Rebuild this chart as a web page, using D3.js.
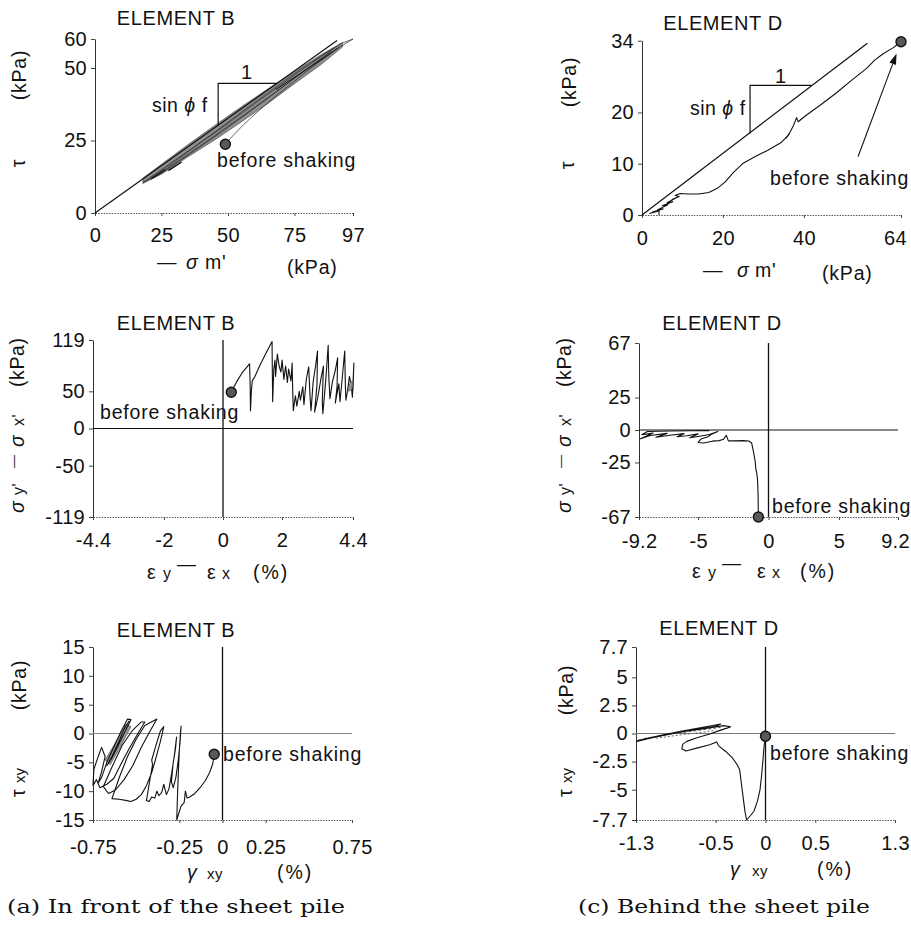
<!DOCTYPE html>
<html><head><meta charset="utf-8">
<script src="https://cdn.jsdelivr.net/npm/d3@7"></script>
<style>body{margin:0;background:#fff}</style>
</head><body>
<script>
// ---------------- data ----------------
// Element B : effective stress path  (tau vs sigma_m')
const bStressXTicks = [0, 25, 50, 75, 97];
const bStressYTicks = [0, 25, 50, 60];
const bFailure = [[0, 0], [91, 59.5]];
const bSlopeTri = [[46.3, 30.3], [46.3, 44.7], [68.3, 44.7]];
const bStressBand = [[18, 12.0], [25, 16.8], [35, 23.6], [45, 30.2], [55, 36.6], [65, 42.8], [75, 48.8], [85, 54.6], [93, 58.8],
                     [93, 57.2], [85, 51.2], [75, 44.6], [65, 37.8], [55, 31.4], [45, 25.2], [35, 19.4], [25, 13.4], [18, 10.2]];
const bStressPath = [[49, 23.7], [52, 26.8], [56, 30.6], [61, 34.8], [67, 39.6], [73, 44.0], [79, 48.4], [85, 52.6], [91, 56.6], [97, 60.0],
  [93, 58.6], [87, 55.2], [81, 51.4], [75, 47.6], [69, 43.6], [63, 39.6], [57, 35.6], [51, 31.6], [45, 27.6], [39, 23.8], [33, 19.8],
  [27, 15.8], [22, 12.6], [18, 10.4], [21, 12.4], [26, 15.6], [31, 18.8], [37, 22.6], [43, 26.6], [49, 30.6], [55, 34.8], [61, 38.8],
  [67, 42.8], [73, 46.8], [79, 50.6], [85, 54.2], [90, 57.0], [86, 53.8], [80, 49.8], [74, 45.8], [68, 41.8], [62, 37.8], [56, 33.8],
  [50, 30.0], [44, 26.0], [38, 22.2], [32, 18.4], [26, 14.6], [21, 11.6], [24, 13.2], [30, 16.8], [36, 20.6], [42, 24.4], [48, 28.2],
  [54, 32.2], [60, 36.2], [66, 40.2], [72, 44.4], [78, 48.6], [84, 52.6], [89, 55.8]];
const bStressOuter = [[68, 42.6], [74, 46.2], [80, 49.8], [86, 53.4], [91.5, 57.0]];
const bStressLow1 = [[21.3, 12.0], [26.3, 14.9]];
const bStressLow2 = [[27.6, 14.6], [32.6, 17.6]];
const bStressStart = [49, 23.7];

// Element D : effective stress path
const dStressXTicks = [0, 20, 40, 64];
const dStressYTicks = [0, 10, 20, 34];
const dFailure = [[0, 0], [55.7, 33.5]];
const dSlopeTri = [[26.7, 15.9], [26.7, 25.3], [41.9, 25.3]];
const dStressPath = [[64, 33.8], [62, 32.6], [59.5, 31.4], [57.5, 30.2], [55.5, 28.6], [52, 26.4], [48, 23.8], [44, 21.4], [40.5, 19.4],
  [38.6, 18.2], [38.2, 19.0], [37.4, 17.4], [36.6, 16.2], [35.6, 15.0], [36.4, 15.8], [34.5, 14.2], [31, 12.6], [28, 11.4], [25, 10.1],
  [22.5, 8.2], [20.5, 6.4], [18.6, 5.2], [16.5, 4.4], [14, 4.1], [11.5, 4.1], [9.4, 4.2], [8.2, 3.8], [9.2, 3.6], [7.4, 3.0], [8.6, 3.4],
  [6.2, 2.4], [7.6, 2.6], [5, 1.8], [6.4, 2.0], [3.8, 1.0], [5.2, 1.2], [2.6, 0.6], [4.2, 0.8], [1.8, 0.3]];
const dStressTick = [[4.2, 0], [4.2, 1.2]];
const dStressStart = [64, 33.8];
const dStressArrow = [[53.4, 11.4], [62.9, 31.5]];

// Element B : deviator stress vs. strain difference
const bDevXTicks = [-4.4, -2, 0, 2, 4.4];
const bDevYTicks = [-119, -50, 0, 50, 119];
const bDevPath = [[0.28, 48.8], [0.45, 62], [0.65, 75], [0.90, 87], [0.92, 55], [0.93, 24], [0.96, 50], [0.99, 64], [1.08, 70], [1.25, 85],
  [1.45, 101], [1.66, 117], [1.67, 75], [1.68, 36], [1.72, 80], [1.76, 92], [1.78, 70], [1.84, 100], [1.90, 84], [1.96, 76], [2.00, 92],
  [2.06, 66], [2.12, 84], [2.18, 62], [2.22, 80], [2.26, 72], [2.30, 64], [2.34, 88], [2.36, 50], [2.38, 24], [2.45, 44], [2.50, 30],
  [2.58, 50], [2.62, 38], [2.70, 56], [2.74, 32], [2.82, 66], [2.90, 83], [2.95, 40], [2.98, 24], [3.05, 62], [3.14, 86], [3.20, 104],
  [3.18, 58], [3.10, 22], [3.20, 40], [3.32, 68], [3.40, 84], [3.36, 36], [3.38, 20], [3.48, 66], [3.56, 112], [3.58, 70], [3.62, 40],
  [3.70, 62], [3.80, 78], [3.88, 95], [3.86, 56], [3.80, 34], [3.92, 60], [3.96, 36], [4.04, 70], [4.12, 104], [4.14, 60], [4.16, 38],
  [4.22, 52], [4.28, 70], [4.34, 58], [4.38, 42], [4.43, 88], [4.40, 52]];
const bDevBlob = [[4.22, 50], [4.3, 62], [4.38, 64], [4.36, 52]];
const bDevStart = [0.28, 48.8];

// Element D : deviator stress vs. strain difference
const dDevXTicks = [-9.2, -5, 0, 5, 9.2];
const dDevYTicks = [-67, -25, 0, 25, 67];
const dDevPath = [[-0.72, -67], [-0.74, -50], [-0.78, -38], [-0.84, -33], [-0.9, -30], [-0.95, -24], [-1.08, -16], [-1.2, -10], [-1.4, -8.5],
  [-1.8, -8.2], [-2.4, -8.4], [-2.85, -8.4], [-3.0, -4.0], [-3.2, -7.2], [-3.5, -8.2], [-4.0, -8.6], [-4.6, -10.0], [-5.0, -9.6],
  [-4.8, -7.0], [-4.3, -5.2], [-4.0, -3.0], [-3.6, -1.2], [-4.2, -3.5], [-5.0, -5.0], [-5.6, -6.0], [-5.0, -3.0], [-5.8, -4.4],
  [-6.5, -5.2], [-6.0, -2.8], [-7.0, -4.0], [-8.0, -5.6], [-7.2, -2.6], [-8.4, -4.2], [-9.1, -6.8], [-8.2, -2.4], [-9.0, -3.6],
  [-8.6, -1.2], [-7.0, -0.8], [-5.5, -0.6], [-4.2, -0.5]];
const dDevStart = [-0.72, -67];

// Element B : shear stress vs. shear strain
const bShearXTicks = [-0.75, -0.25, 0, 0.25, 0.75];
const bShearYTicks = [-15, -10, -5, 0, 5, 10, 15];
const bShearPath = [[-0.048, -3.6], [-0.056, -5.2], [-0.075, -6.8], [-0.1, -8.2], [-0.13, -9.4], [-0.16, -10.4], [-0.19, -11.0],
  [-0.205, -11.2], [-0.215, -10.0], [-0.222, -12.0], [-0.24, -12.6], [-0.255, -14.0], [-0.265, -15.0], [-0.262, -12.0], [-0.256, -7.0],
  [-0.25, -3.0], [-0.244, 0.0], [-0.24, 1.3], [-0.246, -1.6], [-0.256, -4.6], [-0.27, -7.6], [-0.285, -9.4], [-0.296, -8.4],
  [-0.286, -5.2], [-0.272, -2.6], [-0.266, -0.6], [-0.278, -3.6], [-0.294, -6.8], [-0.31, -9.6], [-0.325, -10.6], [-0.34, -8.8],
  [-0.352, -10.2], [-0.368, -10.8], [-0.38, -10.0], [-0.392, -11.2], [-0.41, -11.0], [-0.425, -11.8], [-0.44, -11.6], [-0.425, -8.8],
  [-0.405, -5.4], [-0.41, -4.6], [-0.385, -2.0], [-0.36, 0.4], [-0.34, 1.2], [-0.36, -1.4], [-0.385, -4.2], [-0.41, -6.8], [-0.44, -9.0],
  [-0.47, -10.6], [-0.50, -11.4], [-0.53, -11.8], [-0.56, -11.6], [-0.60, -11.4], [-0.64, -11.3], [-0.60, -7.8], [-0.55, -4.0],
  [-0.50, -1.0], [-0.45, 1.4], [-0.38, 2.5], [-0.42, 0.4], [-0.47, -2.4], [-0.52, -5.6], [-0.57, -8.0], [-0.62, -9.8], [-0.66, -10.4],
  [-0.69, -9.2], [-0.64, -5.8], [-0.58, -2.0], [-0.52, 0.6], [-0.47, 2.0], [-0.45, 2.0], [-0.49, 0.0], [-0.54, -2.6], [-0.59, -5.4],
  [-0.63, -7.8], [-0.67, -8.8], [-0.71, -9.4], [-0.73, -8.0], [-0.75, -9.0], [-0.745, -6.2], [-0.72, -4.0], [-0.70, -2.4], [-0.68, -4.0],
  [-0.70, -6.6], [-0.72, -8.6], [-0.70, -7.6], [-0.67, -5.0], [-0.63, -2.4], [-0.59, 0.2], [-0.55, 2.5], [-0.53, 2.4], [-0.56, 0.6],
  [-0.60, -1.8], [-0.64, -4.2], [-0.67, -5.6], [-0.64, -4.0], [-0.60, -1.4], [-0.57, 0.8], [-0.54, 2.2]];
const bShearHatch = [[-0.68, -4.6], [-0.62, -1.6], [-0.56, 1.6], [-0.53, 1.2], [-0.59, -2.2], [-0.65, -5.4]];
const bShearStart = [-0.048, -3.6];

// Element D : shear stress vs. shear strain
const dShearXTicks = [-1.3, -0.5, 0, 0.5, 1.3];
const dShearYTicks = [-7.7, -5, -2.5, 0, 2.5, 5, 7.7];
const dShearPath = [[0, -0.25], [-0.015, -1.2], [-0.025, -2.3], [-0.04, -3.8], [-0.055, -5.0], [-0.08, -6.0], [-0.115, -6.9], [-0.15, -7.3],
  [-0.19, -7.7], [-0.205, -7.0], [-0.22, -6.0], [-0.24, -4.6], [-0.26, -3.2], [-0.29, -2.7], [-0.33, -2.2], [-0.40, -1.6], [-0.47, -1.1],
  [-0.49, -0.75], [-0.56, -1.0], [-0.69, -1.3], [-0.80, -1.55], [-0.84, -1.35], [-0.83, -0.95], [-0.79, -0.7], [-0.68, -0.35],
  [-0.56, -0.05], [-0.45, 0.3], [-0.38, 0.5], [-0.35, 0.6], [-0.42, 0.7], [-0.6, 0.45], [-0.8, 0.2], [-1.0, -0.1], [-1.2, -0.5],
  [-1.29, -0.7], [-1.28, -0.6], [-1.1, -0.3], [-0.9, 0.05], [-0.7, 0.35], [-0.5, 0.65], [-0.45, 0.85], [-0.6, 0.6], [-0.85, 0.2],
  [-1.05, -0.15], [-1.25, -0.55]];
const dShearDash1 = [[-1.22, -0.45], [-0.95, -0.05], [-0.7, 0.25], [-0.45, 0.55]];
const dShearDash2 = [[-1.1, -0.42], [-0.85, -0.12], [-0.62, 0.12], [-0.5, 0.3]];
const dShearStart = [0, -0.25];

// ---------------- drawing ----------------
const FONT = "'Liberation Sans', Arial, Helvetica, sans-serif";
const SERIF = "'DejaVu Serif', 'Liberation Serif', serif";
const INK = '#111';

const svg = d3.select('body').append('svg')
  .attr('width', 911).attr('height', 928)
  .style('font-family', FONT);

function panel(c) {
  const x = d3.scaleLinear().domain([c.xTicks[0], c.xTicks[c.xTicks.length - 1]]).range([c.left, c.right]);
  const y = d3.scaleLinear().domain([c.yTicks[0], c.yTicks[c.yTicks.length - 1]]).range([c.bottom, c.top]);
  const g = svg.append('g');

  const xa = g.append('g').attr('transform', `translate(0,${c.bottom})`)
    .call(d3.axisBottom(x).tickValues(c.xTicks).tickFormat(String).tickSize(3).tickSizeOuter(0).tickPadding(c.xPad));
  xa.select('.domain').attr('stroke', '#555').attr('stroke-dasharray', '1.5,1.2');

  const ya = g.append('g').attr('transform', `translate(${c.left},0)`)
    .call(d3.axisLeft(y).tickValues(c.yTicks).tickFormat(String).tickSize(4).tickSizeOuter(0).tickPadding(4));
  ya.select('.domain').attr('stroke', '#333');

  [xa, ya].forEach(a => {
    a.attr('font-family', FONT).attr('font-size', null);
    a.selectAll('.tick line').attr('stroke', '#444');
    a.selectAll('.tick text').attr('font-size', 20).attr('letter-spacing', 0.3).attr('fill', INK);
  });
  // keep the last x label inside the frame
  xa.selectAll('.tick text').filter((d, i, n) => i === n.length - 1).attr('dx', c.lastDx || 0);

  const line = d3.line().x(d => x(d[0])).y(d => y(d[1]));
  return { g, x, y, line };
}

function path(p, data, opts = {}) {
  return p.g.append('path').attr('d', p.line(data))
    .attr('fill', 'none').attr('stroke', opts.stroke || INK)
    .attr('stroke-width', opts.width || 1.1)
    .attr('stroke-linejoin', 'round')
    .attr('stroke-dasharray', opts.dash || null);
}
function area(p, data, fill) {
  return p.g.append('path').attr('d', p.line(data) + 'Z').attr('fill', fill).attr('stroke', '#555').attr('stroke-width', 0.7);
}
function dot(p, d) {
  p.g.append('circle').attr('cx', p.x(d[0])).attr('cy', p.y(d[1])).attr('r', 5)
    .attr('fill', '#595959').attr('stroke', '#111').attr('stroke-width', 1.4);
}
function text(x, y, s, o = {}) {
  const t = svg.append('text').attr('x', x).attr('y', y)
    .attr('font-size', o.size || 19.5).attr('fill', INK)
    .attr('text-anchor', o.anchor || 'start')
    .attr('letter-spacing', o.ls == null ? 0.8 : o.ls)
    .attr('font-family', o.family || FONT)
    .attr('font-style', o.style || null);
  if (o.rot) t.attr('transform', `rotate(-90,${x},${y})`);
  if (o.len) t.attr('textLength', o.len).attr('lengthAdjust', 'spacingAndGlyphs');
  t.text(s);
  return t;
}
function sinPhi(x, y) {
  const t = text(x, y, 'sin ', { ls: 0.5 });
  t.append('tspan').attr('font-style', 'italic').text('ϕ');
  t.append('tspan').text(' f');
}
function zeroLines(p, hColor) {
  const xd = p.x.domain(), yd = p.y.domain();
  path(p, [[xd[0], 0], [xd[1], 0]], { stroke: hColor, width: 1.1 });
  path(p, [[0, yd[0]], [0, yd[1]]], { stroke: '#111', width: 1.3 });
}

// ---- (a) Element B, stress path ----
const p1 = panel({ left: 95, right: 353, top: 39, bottom: 213, xTicks: bStressXTicks, yTicks: bStressYTicks, xPad: 12 });
area(p1, bStressBand, '#8f8f8f');
path(p1, bFailure, { width: 1.2 });
path(p1, bStressPath, { width: 0.7, stroke: '#2a2a2a' });
path(p1, bStressOuter, { width: 1 });
path(p1, bStressLow1, { width: 1.3 });
path(p1, bStressLow2, { width: 1.3 });
path(p1, bSlopeTri, { width: 1.2 });
dot(p1, bStressStart);
text(176, 25, 'ELEMENT B', { anchor: 'middle', size: 20, ls: 0.6 });
text(247, 79, '1', { anchor: 'middle', size: 20 });
sinPhi(152, 112);
text(217, 167, 'before shaking');
text(26, 75, '(kPa)', { anchor: 'middle', rot: true });
text(25, 163, 'τ', { anchor: 'middle', rot: true });
text(157, 269, '—', { ls: 0 });
text(186, 269, 'σ', { style: 'italic' });
text(205, 269, "m'");
text(287, 274, '(kPa)');

// ---- (c) Element D, stress path ----
const p2 = panel({ left: 642, right: 901, top: 40.7, bottom: 215, xTicks: dStressXTicks, yTicks: dStressYTicks, xPad: 13, lastDx: -6 });
path(p2, dFailure, { width: 1.2 });
path(p2, dStressPath, { width: 1.1 });
path(p2, dStressTick, { width: 1 });
path(p2, dSlopeTri, { width: 1.2 });
dot(p2, dStressStart);
{
  const a = dStressArrow.map(d => [p2.x(d[0]), p2.y(d[1])]);
  const ang = Math.atan2(a[1][1] - a[0][1], a[1][0] - a[0][0]);
  const L = 11, W = 3.5;
  const tip = a[1], bx = tip[0] - L * Math.cos(ang), by = tip[1] - L * Math.sin(ang);
  p2.g.append('line').attr('x1', a[0][0]).attr('y1', a[0][1]).attr('x2', bx).attr('y2', by).attr('stroke', INK).attr('stroke-width', 1.1);
  p2.g.append('path').attr('d', `M${tip[0]},${tip[1]}L${bx + W * Math.sin(ang)},${by - W * Math.cos(ang)}L${bx - W * Math.sin(ang)},${by + W * Math.cos(ang)}Z`).attr('fill', INK);
}
text(723, 30, 'ELEMENT D', { anchor: 'middle', size: 20, ls: 0.6 });
text(781, 83, '1', { anchor: 'middle', size: 20 });
sinPhi(690, 115);
text(770, 185, 'before shaking');
text(576, 82, '(kPa)', { anchor: 'middle', rot: true });
text(574, 165, 'τ', { anchor: 'middle', rot: true });
text(703, 277, '—', { ls: 0 });
text(737, 277, 'σ', { style: 'italic' });
text(755, 277, "m'");
text(822, 280, '(kPa)');

// ---- (a) Element B, deviator ----
const p3 = panel({ left: 93, right: 353, top: 340, bottom: 517, xTicks: bDevXTicks, yTicks: bDevYTicks, xPad: 13 });
zeroLines(p3, '#111');
path(p3, bDevPath, { width: 1.1 });
area(p3, bDevBlob, '#999');
dot(p3, bDevStart);
text(176, 330, 'ELEMENT B', { anchor: 'middle', size: 20, ls: 0.6 });
text(100, 419, 'before shaking');

// ---- (c) Element D, deviator ----
const p4 = panel({ left: 639, right: 898, top: 343, bottom: 517, xTicks: dDevXTicks, yTicks: dDevYTicks, xPad: 14, lastDx: -3 });
zeroLines(p4, '#111');
path(p4, dDevPath, { width: 1.1 });
dot(p4, dDevStart);
text(722, 330, 'ELEMENT D', { anchor: 'middle', size: 20, ls: 0.6 });
text(772, 513, 'before shaking');

// y / x labels of deviator panels
function devLabels(bx, by, xs, base) {
  // rotated y label, reading bottom to top
  const gy = svg.append('g').attr('transform', `translate(${bx},${by}) rotate(-90)`);
  const put = (t, yy, s, o = {}) => gy.append('text').attr('x', t).attr('y', yy).attr('font-size', o.size || 19.5)
    .attr('font-style', o.style || null).attr('fill', INK).attr('letter-spacing', 0.6).text(s);
  put(0, 0, 'σ', { style: 'italic' });
  put(18, 0, "y'", { size: 16 });
  put(45, -6, '—', { size: 13 });
  put(66, 0, 'σ', { style: 'italic' });
  put(87, 0, "x'", { size: 16 });
  put(126, 0, '(kPa)');
  // x label
  text(xs[0], base, 'ε', { ls: 0 });
  text(xs[1], base, 'y', { size: 16, ls: 0 });
  text(xs[2], base - 9, '—', { size: 19, ls: 0 });
  text(xs[3], base, 'ε', { ls: 0 });
  text(xs[4], base, 'x', { size: 16, ls: 0 });
  text(xs[5], base, '(%)', { ls: 2 });
}
devLabels(24, 513, [147, 163, 177, 207, 222, 253], 579);
devLabels(571, 513, [692, 708, 722, 757, 772, 800], 578);

// ---- (a) Element B, shear ----
const p5 = panel({ left: 93, right: 352, top: 647, bottom: 820, xTicks: bShearXTicks, yTicks: bShearYTicks, xPad: 17 });
zeroLines(p5, '#888');
area(p5, bShearHatch, '#9a9a9a');
path(p5, bShearPath, { width: 1.1 });
dot(p5, bShearStart);
text(176, 637, 'ELEMENT B', { anchor: 'middle', size: 20, ls: 0.6 });
text(223, 761, 'before shaking');
text(26, 685, '(kPa)', { anchor: 'middle', rot: true });
{
  const gy = svg.append('g').attr('transform', 'translate(25,797) rotate(-90)');
  gy.append('text').attr('font-size', 19.5).attr('fill', INK).text('τ');
  gy.append('text').attr('x', 14).attr('font-size', 15).attr('fill', INK).text('xy');
}
text(187, 879, 'γ', { style: 'italic', ls: 0 });
text(207, 879, 'xy', { size: 15, ls: 0.5 });
text(277, 879, '(%)', { ls: 2 });
text(7, 913, '(a)  In front of the sheet pile', { family: SERIF, size: 19, ls: 0, len: 338 });

// ---- (c) Element D, shear ----
const p6 = panel({ left: 636, right: 895, top: 647, bottom: 820, xTicks: dShearXTicks, yTicks: dShearYTicks, xPad: 13 });
zeroLines(p6, '#777');
path(p6, dShearDash1, { width: 1, stroke: '#555', dash: '3,2' });
path(p6, dShearDash2, { width: 1, stroke: '#666', dash: '2,2' });
path(p6, dShearPath, { width: 1.1 });
dot(p6, dShearStart);
text(719, 635, 'ELEMENT D', { anchor: 'middle', size: 20, ls: 0.6 });
text(770, 760, 'before shaking');
text(573, 690, '(kPa)', { anchor: 'middle', rot: true });
{
  const gy = svg.append('g').attr('transform', 'translate(572,797) rotate(-90)');
  gy.append('text').attr('font-size', 19.5).attr('fill', INK).text('τ');
  gy.append('text').attr('x', 14).attr('font-size', 15).attr('fill', INK).text('xy');
}
text(730, 876, 'γ', { style: 'italic', ls: 0 });
text(752, 876, 'xy', { size: 15, ls: 0.5 });
text(817, 876, '(%)', { ls: 2 });
text(578, 913, '(c)  Behind the sheet pile', { family: SERIF, size: 19, ls: 0, len: 292 });
</script>
</body></html>
